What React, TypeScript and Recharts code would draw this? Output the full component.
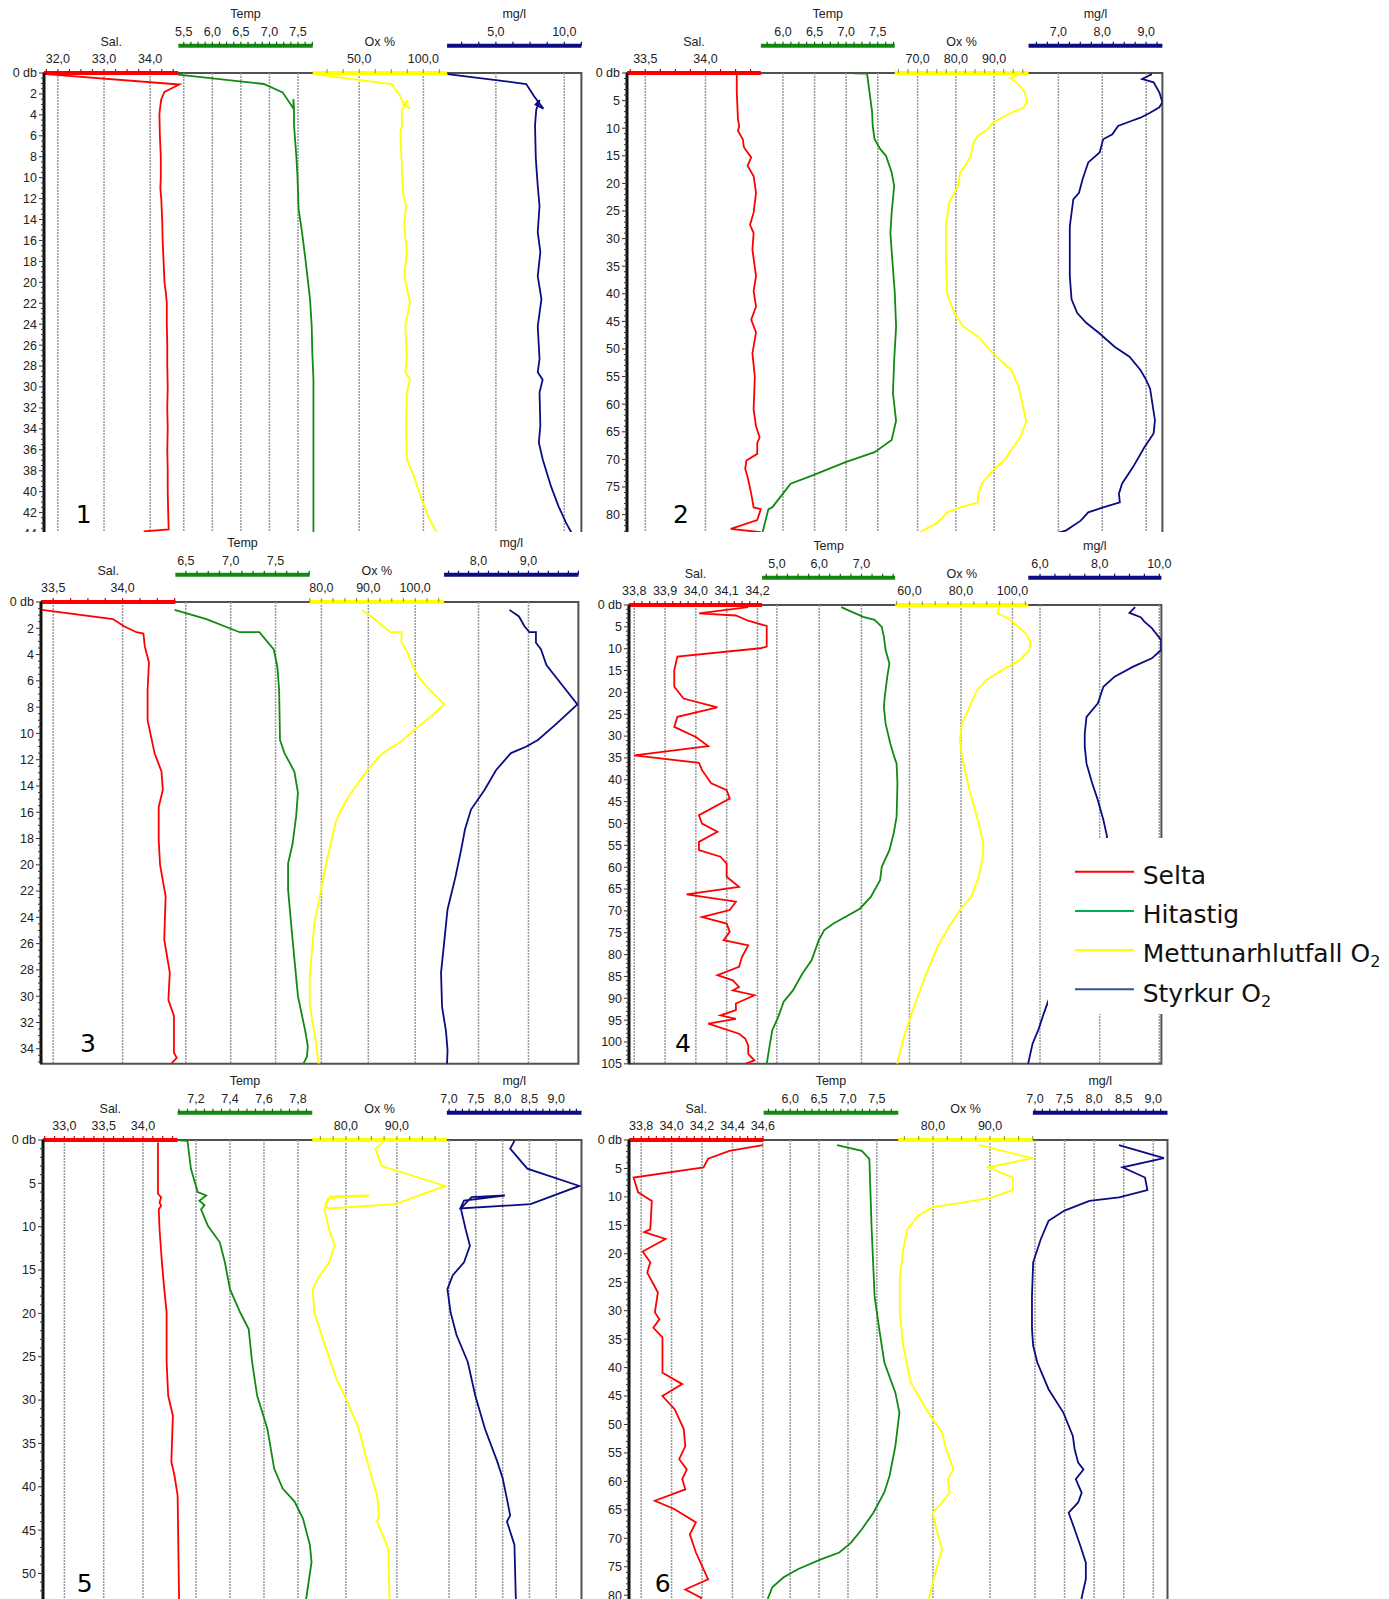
import React from 'react';
import { ScatterChart, Scatter, XAxis, YAxis, ReferenceLine, ReferenceArea } from 'recharts';

// profiles are [depth (db), value]
type Profile = [number, number][];
type Key = 'sal' | 'temp' | 'ox' | 'mg';

// ---------- panel 1 ----------
const p1Sal: Profile = [[0.1, 31.75], [1.1, 34.63], [1.8, 34.31], [2.5, 34.24], [3.5, 34.21], [4, 34.2], [6, 34.21], [8, 34.23], [10, 34.23], [11, 34.22], [12, 34.24], [14, 34.26], [16, 34.27], [18, 34.29], [20, 34.31], [21, 34.34], [22, 34.36], [24, 34.36], [26, 34.37], [28, 34.37], [30, 34.38], [32, 34.37], [34, 34.38], [36, 34.37], [38, 34.38], [40, 34.38], [42, 34.39], [43.6, 34.4], [43.8, 33.86]];
const p1Temp: Profile = [[0.15, 5.4], [1.05, 6.9], [1.85, 7.23], [3.4, 7.42], [2.5, 7.42], [3.5, 7.43], [5, 7.43], [7.9, 7.47], [9.8, 7.49], [13, 7.51], [15.2, 7.57], [17.8, 7.63], [21.6, 7.71], [24.2, 7.74], [26.7, 7.75], [29.3, 7.77], [44, 7.77]];
const p1Ox: Profile = [[0.1, 14.7], [1.05, 75.1], [2.2, 82], [2.7, 83.5], [3.4, 89.5], [3.0, 84.5], [2.6, 88], [3.6, 83], [5, 83.5], [5.6, 82], [8.2, 82.9], [11.4, 84.1], [12.7, 86.5], [14.5, 85], [17.1, 87.1], [19.4, 85], [21.9, 89.5], [24.2, 85.9], [27.3, 87.1], [28.6, 85.9], [29.3, 89.5], [30.5, 87.1], [33.7, 86.5], [36.9, 87.1], [38.5, 92.5], [40.7, 98.5], [42.6, 104.5], [44, 111]];
const p1Mg: Profile = [[0.1, 1.47], [1.05, 7.22], [2.2, 7.78], [2.7, 8.06], [3.4, 8.47], [3.0, 7.9], [2.6, 8.2], [3.5, 7.95], [5, 7.86], [8.2, 7.92], [10.8, 8.06], [12.7, 8.19], [15.2, 8.06], [17.1, 8.25], [19.4, 8.06], [21.6, 8.33], [24.2, 8.06], [27.3, 8.19], [28.6, 8.06], [29.3, 8.42], [30.5, 8.19], [33.7, 8.25], [35.3, 8.14], [36.9, 8.42], [39.5, 9.03], [41.4, 9.58], [43, 10.14], [44, 10.56]];

// ---------- panel 2 ----------
const p2Sal: Profile = [[0.2, 34.26], [3.5, 34.26], [8.4, 34.27], [9.6, 34.28], [10.5, 34.27], [12, 34.31], [13.5, 34.32], [15.3, 34.38], [16.8, 34.35], [18.7, 34.4], [21.7, 34.42], [25.3, 34.4], [27.5, 34.37], [29, 34.4], [32, 34.39], [36.8, 34.42], [39.5, 34.4], [42.3, 34.42], [44.7, 34.38], [47, 34.42], [50.8, 34.39], [55, 34.41], [61, 34.4], [64, 34.42], [66, 34.45], [67, 34.43], [69, 34.43], [70.2, 34.34], [71.7, 34.33], [73.2, 34.35], [76.2, 34.38], [78.7, 34.4], [79, 34.46], [81, 34.43], [82.6, 34.21], [83.2, 34.46]];
const p2Temp: Profile = [[0.05, 7.12], [0.1, 7.33], [3.5, 7.37], [7, 7.41], [9.6, 7.42], [12, 7.45], [13.8, 7.54], [15, 7.63], [18, 7.72], [20.5, 7.76], [25.3, 7.72], [29, 7.7], [33.8, 7.73], [39.9, 7.77], [46, 7.79], [52, 7.76], [58, 7.74], [63, 7.79], [66.5, 7.72], [68.7, 7.45], [70.5, 6.99], [72.9, 6.47], [74.4, 6.12], [76.2, 6.0], [78.7, 5.83], [79, 5.77], [81.7, 5.71], [84, 5.66]];
const p2Ox: Profile = [[0.2, 96.9], [0.9, 94.2], [2.0, 96.3], [3.5, 98.0], [5.3, 98.6], [6.3, 97.7], [7.2, 94.5], [8.3, 91.5], [9.0, 89.7], [10.2, 88.3], [11.4, 85.7], [12.6, 84.6], [15, 83.9], [16.8, 82.5], [18, 81.1], [20.5, 80.6], [21.7, 79.6], [23.5, 78.2], [27.8, 77.4], [33.8, 77.4], [39.9, 77.7], [43.5, 79.6], [46, 82], [47.8, 85.9], [50.8, 89.7], [53.8, 94.5], [56.8, 96.4], [59.9, 97.4], [63.2, 98.4], [65.9, 96.9], [67.8, 95], [70.2, 92.6], [72, 89.7], [74.4, 86.8], [76.2, 85.9], [77.8, 85.7], [78.7, 81.1], [79.6, 77.7], [81.4, 75.3], [82.9, 71.4], [84, 68.6]];
const p2Mg: Profile = [[0.2, 9.13], [1.1, 8.91], [1.7, 9.17], [3.5, 9.3], [5.3, 9.37], [6.2, 9.3], [7.2, 9.09], [8.1, 8.87], [8.7, 8.66], [9.6, 8.36], [11.1, 8.23], [12, 8.02], [14.4, 7.94], [16.2, 7.68], [19.3, 7.55], [21.7, 7.47], [22.9, 7.34], [27.8, 7.26], [36.8, 7.26], [41, 7.3], [43.5, 7.43], [45.3, 7.64], [47.2, 7.94], [49.6, 8.28], [51.4, 8.62], [53.8, 8.87], [55.6, 9.0], [57.2, 9.09], [62.9, 9.2], [65.3, 9.17], [67.8, 8.96], [71.4, 8.7], [74.4, 8.45], [76.2, 8.38], [77.8, 8.4], [78.7, 8.02], [79.6, 7.68], [81.1, 7.51], [82.9, 7.17], [84, 6.66]];

// ---------- panel 3 ----------
const p3Sal: Profile = [[0.6, 33.42], [1.3, 33.93], [1.85, 34.01], [2.3, 34.1], [2.4, 34.15], [3.4, 34.16], [4.6, 34.19], [6.7, 34.18], [9, 34.18], [10, 34.2], [11.5, 34.23], [12.9, 34.28], [14.3, 34.29], [15.6, 34.26], [18.1, 34.26], [20, 34.27], [22.4, 34.31], [25.7, 34.3], [28.2, 34.34], [30.3, 34.33], [31.5, 34.37], [34.3, 34.37], [34.7, 34.39], [35.15, 34.35]];
const p3Temp: Profile = [[0.6, 6.375], [1.3, 6.73], [2.3, 7.1], [2.3, 7.32], [3.6, 7.48], [4.9, 7.52], [6.7, 7.54], [10.5, 7.55], [11.5, 7.6], [12.9, 7.71], [14.5, 7.75], [16.3, 7.73], [18.4, 7.69], [19.9, 7.64], [21.9, 7.64], [25.7, 7.69], [30, 7.75], [32.6, 7.83], [33.8, 7.86], [34.6, 7.85], [35.15, 7.81]];
const p3Ox: Profile = [[0.6, 88.6], [1.2, 91], [2.3, 94.7], [2.3, 97.1], [3.1, 97.1], [3.8, 98.3], [4.9, 99.5], [5.7, 100.7], [6.7, 103.1], [7.8, 106.2], [8.8, 103.1], [9.7, 99.9], [10.6, 97.1], [11.2, 94.3], [11.75, 92.3], [12.8, 89.8], [13.8, 87.8], [14.8, 85.8], [15.8, 84.2], [16.8, 83], [18.4, 82], [19.9, 81], [21.4, 80.2], [22.9, 79.4], [24.4, 78.5], [26.5, 78], [28.5, 77.5], [30.5, 77.5], [32, 78.1], [33.6, 78.9], [35.15, 79.4]];
const p3Mg: Profile = [[0.6, 8.62], [1.1, 8.81], [1.85, 8.92], [2.3, 9.02], [2.3, 9.15], [3.1, 9.15], [3.6, 9.25], [4.8, 9.36], [6.2, 9.65], [7.8, 9.98], [9.2, 9.58], [10.5, 9.19], [11, 8.96], [11.5, 8.65], [12.8, 8.35], [14.3, 8.12], [15.8, 7.85], [17.3, 7.73], [18.9, 7.65], [20.9, 7.54], [23.4, 7.38], [26, 7.31], [28.2, 7.25], [30.8, 7.27], [32.7, 7.35], [34.1, 7.38], [35.15, 7.37]];

// ---------- panel 4 ----------
const p4Sal: Profile = [[0.5, 34.17], [1.9, 34.01], [2.4, 34.13], [3.6, 34.17], [4.2, 34.2], [4.8, 34.23], [7.3, 34.23], [9.5, 34.23], [9.9, 34.21], [11.8, 33.94], [14.9, 33.93], [16.8, 33.93], [18.7, 33.93], [21.4, 33.96], [23.4, 34.07], [25.6, 33.94], [27.9, 33.93], [30.2, 34.0], [32.3, 34.04], [34.4, 33.8], [36.1, 34.01], [37.8, 34.02], [40.8, 34.05], [42.4, 34.1], [44.3, 34.11], [48.1, 34.01], [50, 34.02], [51.9, 34.07], [54.2, 34.01], [56.1, 34.01], [57.6, 34.08], [59.2, 34.1], [62.2, 34.1], [64.5, 34.14], [66.2, 33.97], [67.9, 34.13], [69.8, 34.11], [71.4, 34.02], [72.9, 34.1], [74.8, 34.11], [76.7, 34.09], [77.9, 34.17], [80.5, 34.15], [82.8, 34.14], [84.7, 34.07], [85.9, 34.12], [87.4, 34.14], [88.2, 34.12], [89.3, 34.19], [91.2, 34.13], [92.7, 34.13], [93.9, 34.08], [94.7, 34.13], [95.8, 34.04], [98.1, 34.14], [99.2, 34.16], [100.8, 34.17], [102.7, 34.17], [104.2, 34.19], [105, 34.16]];
const p4Temp: Profile = [[0.5, 6.52], [2.7, 7.04], [3.4, 7.31], [5, 7.48], [7.3, 7.53], [10.3, 7.57], [13.4, 7.66], [16.4, 7.61], [21, 7.55], [23.4, 7.53], [27.1, 7.57], [31.7, 7.68], [34, 7.75], [36.3, 7.83], [40.8, 7.85], [48.5, 7.83], [52.3, 7.76], [56.1, 7.66], [59.9, 7.48], [63, 7.44], [66.8, 7.22], [69.5, 6.96], [71, 6.69], [72.9, 6.34], [74.4, 6.12], [76.7, 5.99], [81.3, 5.82], [84.4, 5.6], [88.2, 5.38], [90.8, 5.16], [94.3, 5.03], [97.3, 4.89], [101.9, 4.81], [105, 4.76]];
const p4Ox: Profile = [[0.5, 94.9], [1.9, 94.2], [3.1, 98.5], [5, 102.2], [6.5, 105.1], [8.4, 107], [10.3, 106.5], [12.6, 102.9], [14.5, 97.1], [17.2, 89.8], [19.5, 86.2], [23.3, 83.3], [27.1, 80.4], [30.9, 79.6], [34.7, 80.4], [42.4, 83.3], [50, 86.9], [54.6, 88.7], [57.6, 88.4], [62.2, 86.9], [66.8, 84], [69.8, 79.6], [73.7, 75.3], [78.2, 70.9], [84.4, 66.5], [91.2, 62.2], [95, 60], [98.9, 57.8], [105, 55.2]];
const p4Mg: Profile = [[0.5, 9.19], [1.8, 9.0], [2.8, 9.375], [3.8, 9.5], [5.3, 9.75], [8, 10.06], [10.3, 10.06], [12.2, 9.75], [14.1, 9.125], [16.4, 8.5], [18.7, 8.125], [22.5, 7.94], [25.6, 7.56], [29.4, 7.5], [32.4, 7.5], [36.3, 7.56], [40.8, 7.75], [44.7, 7.94], [49.2, 8.125], [53, 8.25], [93.5, 6.125], [97.3, 5.94], [100.4, 5.75], [105, 5.6]];

// ---------- panel 5 ----------
const p5Sal: Profile = [[0.3, 34.19], [6.2, 34.19], [6.6, 34.23], [7.2, 34.21], [7.6, 34.23], [8, 34.2], [10.3, 34.21], [14.1, 34.24], [17.2, 34.27], [19.9, 34.3], [25.6, 34.3], [29.5, 34.32], [31.8, 34.38], [37.1, 34.36], [38.7, 34.4], [41, 34.44], [54, 34.46]];
const p5Temp: Profile = [[0.05, 7.1], [0.1, 7.15], [3.3, 7.17], [6, 7.21], [6.4, 7.26], [7, 7.22], [7.5, 7.25], [8, 7.23], [9.9, 7.27], [11.8, 7.34], [14.1, 7.37], [17.2, 7.4], [19.9, 7.46], [21.8, 7.51], [25.6, 7.53], [29.5, 7.56], [33.3, 7.62], [37.9, 7.66], [40.2, 7.71], [41.7, 7.78], [43.7, 7.83], [46.7, 7.87], [48.7, 7.88], [54, 7.84]];
const p5Ox: Profile = [[0.1, 87.5], [1.0, 85.8], [3.0, 87], [5.3, 99.5], [7.4, 89.7], [7.9, 76.5], [7.5, 76], [6.5, 77], [6.4, 84.6], [6.7, 76.5], [8, 75.8], [10.3, 76.7], [12.2, 77.8], [14.1, 76.7], [16, 74.5], [17.2, 73.5], [19.9, 73.8], [23.7, 75.9], [27.5, 78.1], [30.2, 80.3], [33.3, 82.5], [37.1, 84.2], [39, 85.1], [41, 86.1], [43.3, 86.5], [44, 86.1], [47.1, 88.3], [54, 88.6]];
const p5Mg: Profile = [[0.1, 8.22], [1, 8.14], [3.3, 8.46], [5.3, 9.43], [7.4, 8.52], [7.9, 7.21], [7.0, 7.28], [6.4, 8.04], [6.6, 7.42], [7.9, 7.22], [10.3, 7.31], [12.2, 7.39], [14.1, 7.28], [15.6, 7.07], [17.2, 6.97], [19.9, 7.03], [22.5, 7.14], [25.6, 7.35], [29.5, 7.49], [33.3, 7.67], [37.1, 7.9], [39, 8.0], [41.4, 8.08], [43.3, 8.14], [44, 8.08], [46.7, 8.22], [54, 8.25]];

// ---------- panel 6 ----------
const p6Sal: Profile = [[0.9, 34.6], [1.9, 34.38], [3.3, 34.24], [4.8, 34.21], [6.6, 33.75], [9.2, 33.78], [10.7, 33.87], [15.7, 33.86], [16.2, 33.82], [17.4, 33.96], [19.6, 33.81], [21.5, 33.86], [23.3, 33.84], [26.8, 33.91], [30.3, 33.89], [31.5, 33.92], [33, 33.88], [34.7, 33.94], [40.9, 33.94], [42.9, 34.07], [45, 33.94], [47.3, 34.02], [50.8, 34.08], [53.8, 34.09], [56.1, 34.05], [57.9, 34.1], [59.6, 34.07], [61.4, 34.09], [63.4, 33.89], [64.9, 34.02], [67.2, 34.16], [69.3, 34.12], [72.5, 34.16], [77.2, 34.24], [79, 34.09], [80.4, 34.19], [82, 34.22]];
const p6Temp: Profile = [[0.9, 6.81], [1.9, 7.24], [3.3, 7.37], [15.7, 7.41], [27.4, 7.46], [33.2, 7.54], [39.1, 7.63], [44.4, 7.82], [47.9, 7.89], [53.8, 7.82], [59, 7.72], [61.9, 7.63], [65.5, 7.44], [68.4, 7.24], [70.8, 7.05], [72.5, 6.85], [73.7, 6.53], [75.4, 6.14], [76.9, 5.88], [78.6, 5.69], [80.4, 5.62], [82, 5.58]];
const p6Ox: Profile = [[0.9, 88.1], [3.2, 97.5], [4.8, 89.7], [6.6, 94], [8.8, 94], [10.1, 90.4], [11, 85.2], [11.8, 80], [13.3, 77.4], [15.7, 75.5], [19.2, 74.8], [24.4, 74.2], [30.3, 74.2], [36.2, 74.8], [42.6, 76.1], [46.1, 78.1], [49.1, 80], [51.4, 81.6], [54.3, 82.3], [57.9, 83.6], [59.6, 82.6], [62, 82.9], [63.7, 81.6], [65.5, 80], [68.4, 80.6], [71.9, 81.6], [75.4, 80.6], [80.1, 79.4], [82, 79]];
const p6Mg: Profile = [[0.9, 8.42], [3.2, 9.18], [4.8, 8.48], [6.6, 8.86], [8.8, 8.9], [10.1, 8.42], [10.7, 7.92], [12.4, 7.5], [14.2, 7.23], [17.4, 7.1], [21.5, 6.97], [27.4, 6.95], [33.2, 6.95], [36.2, 6.97], [39.1, 7.04], [43.8, 7.23], [47.9, 7.48], [52, 7.64], [54.3, 7.67], [56.7, 7.73], [57.9, 7.82], [59.6, 7.69], [62, 7.79], [63.7, 7.73], [65.5, 7.57], [68.4, 7.67], [71.4, 7.77], [74.3, 7.86], [77.2, 7.86], [80.4, 7.79], [82, 7.78]];

// axis value ranges covered by each quarter of the plot [left, right]
const p1Range = { sal: [31.7, 34.61], temp: [5.405, 7.757], ox: [13.8, 118.4], mg: [1.43, 11.25] };
const p2Range = { sal: [33.348, 34.46], temp: [5.65, 7.768], ox: [64.01, 99.0], mg: [6.32, 9.37] };
const p3Range = { sal: [33.412, 34.38], temp: [6.383, 7.881], ox: [77.5, 106.15], mg: [7.31, 10.0] };
const p4Range = { sal: [33.783, 34.215], temp: [4.65, 7.797], ox: [54.45, 106.15], mg: [5.607, 10.07] };
const p5Range = { sal: [32.728, 34.44], temp: [7.092, 7.884], ox: [73.4, 99.8], mg: [6.96, 9.47] };
const p6Range = { sal: [33.72, 34.605], temp: [5.54, 7.87], ox: [73.92, 97.5], mg: [6.965, 9.24] };

// labelled tick values
const p1Labels = { sal: [32, 33, 34], temp: [5.5, 6, 6.5, 7, 7.5], ox: [50, 100], mg: [5, 10] };
const p2Labels = { sal: [33.5, 34], temp: [6, 6.5, 7, 7.5], ox: [70, 80, 90], mg: [7, 8, 9] };
const p3Labels = { sal: [33.5, 34], temp: [6.5, 7, 7.5], ox: [80, 90, 100], mg: [8, 9] };
const p4Labels = { sal: [33.8, 33.9, 34, 34.1, 34.2], temp: [5, 6, 7], ox: [60, 80, 100], mg: [6, 8, 10] };
const p5Labels = { sal: [33, 33.5, 34], temp: [7.2, 7.4, 7.6, 7.8], ox: [80, 90], mg: [7, 7.5, 8, 8.5, 9] };
const p6Labels = { sal: [33.8, 34, 34.2, 34.4, 34.6], temp: [6, 6.5, 7, 7.5], ox: [80, 90], mg: [7, 7.5, 8, 8.5, 9] };

// minor tick step
const p1Minor = { sal: 0.25, temp: 0.125, ox: 12.5, mg: 1.25 };
const p2Minor = { sal: 0.125, temp: 0.125, ox: 2.5, mg: 0.25 };
const p3Minor = { sal: 0.125, temp: 0.125, ox: 2.5, mg: 0.2 };
const p4Minor = { sal: 0.025, temp: 0.25, ox: 5, mg: 0.5 };
const p5Minor = { sal: 0.125, temp: 0.05, ox: 2.5, mg: 0.125 };
const p6Minor = { sal: 0.05, temp: 0.125, ox: 2.5, mg: 0.125 };

const legendNames = ['Selta', 'Hitastig', 'Mettunarhlutfall O', 'Styrkur O'];
const legendSubs = ['', '', '2', '2'];
const legendColors = ['#ff0000', '#00b050', '#ffff00', '#2f5597'];

// top axes are stacked in this order: sal and ox on the plot edge, temp and mg one row higher
const KEYS: Key[] = ['sal', 'ox', 'temp', 'mg'];
const AXIS_ID: Record<Key, string> = { sal: 'a_sal', ox: 'b_ox', temp: 'c_temp', mg: 'd_mg' };
const QUARTER: Record<Key, number> = { sal: 0, temp: 1, ox: 2, mg: 3 };
const COLORS: Record<Key, string> = { sal: '#ff0000', temp: '#128a12', ox: '#ffff00', mg: '#0c0c82' };
const TICK_COLORS: Record<Key, string> = { sal: '#d00000', temp: '#0d6e0d', ox: '#9a9a55', mg: '#0c0c82' };
const TITLES: Record<Key, string> = { sal: 'Sal.', temp: 'Temp', ox: 'Ox %', mg: 'mg/l' };

const AXIS_FONT = '"Liberation Sans", Arial, sans-serif';
const BIG_FONT = '"DejaVu Sans", Verdana, sans-serif';
const ROW_GAP = 27.3;
const THIN = 0.01; // axes need a positive height to be drawn
const Y_AXIS_W = 40;
const RIGHT_PAD = 22;
const HEAD = 72;

const fmt = (v: number) => v.toFixed(1).replace('.', ',');

function stepTicks(lo: number, hi: number, anchor: number, step: number) {
  const out: number[] = [];
  const start = anchor - Math.floor((anchor - lo) / step + 1e-9) * step;
  for (let i = 0; start + i * step <= hi + 1e-9; i++) out.push(Math.round((start + i * step) * 1e6) / 1e6);
  return out;
}

const EmptyShape = () => <g />;

function TopTick(props: any) {
  const { x, y, payload, majors, color } = props;
  const v = payload.value;
  const isMajor = majors.some((m: number) => Math.abs(m - v) < 1e-6);
  return (
    <g>
      <line x1={x} y1={y} x2={x} y2={y - 4} stroke={color} strokeWidth={1.2} />
      {isMajor && (
        <text x={x} y={y - 10} textAnchor="middle" fontSize={12.5} fill="#222" fontFamily={AXIS_FONT}>
          {fmt(v)}
        </text>
      )}
    </g>
  );
}

function DepthTick(props: any) {
  const { x, y, payload, step } = props;
  const v = payload.value;
  const isMajor = Math.abs(v / step - Math.round(v / step)) < 1e-6;
  return (
    <g>
      <line x1={x - (isMajor ? 5 : 3)} y1={y} x2={x} y2={y} stroke="#333" strokeWidth={1} />
      {isMajor && (
        <text x={x - 7} y={y + 4.4} textAnchor="end" fontSize={12.5} fill="#222" fontFamily={AXIS_FONT}>
          {v === 0 ? '0 db' : v}
        </text>
      )}
    </g>
  );
}

type PanelSpec = {
  plotLeft: number;
  plotTop: number;
  plotW: number;
  dbPx: number;
  maxD: number;
  clipBottom?: number;
  depthStep: number;
  depthMinor: number;
  range: Record<Key, number[]>;
  labels: Record<Key, number[]>;
  minor: Record<Key, number>;
  data: Record<Key, Profile>;
};

const panels: PanelSpec[] = [
  { plotLeft: 43.9, plotTop: 73.4, plotW: 537.4, dbPx: 10.467, maxD: 44, clipBottom: 532, depthStep: 2, depthMinor: 0.5, range: p1Range, labels: p1Labels, minor: p1Minor, data: { sal: p1Sal, temp: p1Temp, ox: p1Ox, mg: p1Mg } },
  { plotLeft: 627.2, plotTop: 73.4, plotW: 535.4, dbPx: 5.52, maxD: 84, clipBottom: 532, depthStep: 5, depthMinor: 1, range: p2Range, labels: p2Labels, minor: p2Minor, data: { sal: p2Sal, temp: p2Temp, ox: p2Ox, mg: p2Mg } },
  { plotLeft: 40.8, plotTop: 601.7, plotW: 537.4, dbPx: 13.14, maxD: 35.15, depthStep: 2, depthMinor: 0.5, range: p3Range, labels: p3Labels, minor: p3Minor, data: { sal: p3Sal, temp: p3Temp, ox: p3Ox, mg: p3Mg } },
  { plotLeft: 629.2, plotTop: 604.7, plotW: 532.4, dbPx: 4.37, maxD: 105, depthStep: 5, depthMinor: 1, range: p4Range, labels: p4Labels, minor: p4Minor, data: { sal: p4Sal, temp: p4Temp, ox: p4Ox, mg: p4Mg } },
  { plotLeft: 42.8, plotTop: 1140.1, plotW: 538.5, dbPx: 8.67, maxD: 54, clipBottom: 1599, depthStep: 5, depthMinor: 1, range: p5Range, labels: p5Labels, minor: p5Minor, data: { sal: p5Sal, temp: p5Temp, ox: p5Ox, mg: p5Mg } },
  { plotLeft: 629.2, plotTop: 1140.1, plotW: 538.5, dbPx: 5.69, maxD: 82, clipBottom: 1599, depthStep: 5, depthMinor: 1, range: p6Range, labels: p6Labels, minor: p6Minor, data: { sal: p6Sal, temp: p6Temp, ox: p6Ox, mg: p6Mg } },
];

const panelNumbers = ['1', '2', '3', '4', '5', '6'];
const numberPos = [[83.6, 523.3], [681, 523.3], [88, 1051.7], [683, 1051.7], [84.7, 1591.7], [662.7, 1591.7]];

function Panel({ spec }: { spec: PanelSpec }) {
  const { plotLeft, plotTop, plotW, dbPx, maxD, clipBottom, depthStep, depthMinor } = spec;
  const plotH = dbPx * maxD;
  const chartW = Y_AXIS_W + plotW + RIGHT_PAD;
  const chartH = HEAD + plotH + 8;
  const left = plotLeft - Y_AXIS_W;
  const top = plotTop - HEAD;
  const visH = clipBottom ? Math.min(chartH, clipBottom - top) : chartH;

  const domains = {} as Record<Key, number[]>;
  KEYS.forEach((k) => {
    const [lo, hi] = spec.range[k];
    const span = hi - lo;
    const q = QUARTER[k];
    domains[k] = [lo - q * span, hi + (3 - q) * span];
  });
  const depthTicks = stepTicks(0, maxD, 0, depthMinor);

  return (
    <div style={{ position: 'absolute', left, top, width: chartW, height: visH, overflow: 'hidden' }}>
      <ScatterChart width={chartW} height={chartH} margin={{ top: HEAD - ROW_GAP - 3 * THIN, right: RIGHT_PAD, bottom: 8, left: 0 }}>
        <ReferenceArea
          xAxisId={AXIS_ID.sal}
          yAxisId="d"
          x1={domains.sal[0]}
          x2={domains.sal[1]}
          y1={0}
          y2={maxD}
          fill="none"
          fillOpacity={0}
          stroke="#505050"
          strokeWidth={2}
          ifOverflow="visible"
        />
        {KEYS.flatMap((k) =>
          spec.labels[k].map((m) => (
            <ReferenceLine
              key={`g-${k}-${m}`}
              xAxisId={AXIS_ID[k]}
              yAxisId="d"
              x={m}
              stroke="#9a9a9a"
              strokeWidth={1.5}
              strokeDasharray="2 1"
            />
          ))
        )}
        {KEYS.map((k) => (
          <Scatter
            key={`s-${k}`}
            xAxisId={AXIS_ID[k]}
            yAxisId="d"
            data={spec.data[k].map(([d, v]) => ({ x: v, y: d }))}
            fill={COLORS[k]}
            line={{ stroke: COLORS[k], strokeWidth: 1.8 }}
            shape={EmptyShape}
            isAnimationActive={false}
          />
        ))}
        {KEYS.map((k) => {
          const q = QUARTER[k];
          const [lo, hi] = spec.range[k];
          const majors = spec.labels[k];
          const ticks = stepTicks(lo, hi, majors[0], spec.minor[k]);
          const dash = q === 0 ? `${plotW / 4} ${plotW * 2}` : `0 ${(q * plotW) / 4} ${plotW / 4} ${plotW * 2}`;
          return (
            <XAxis
              key={`x-${k}`}
              xAxisId={AXIS_ID[k]}
              type="number"
              dataKey="x"
              orientation="top"
              domain={domains[k]}
              allowDataOverflow
              height={k === 'ox' ? ROW_GAP : THIN}
              ticks={ticks}
              interval={0}
              tickLine={false}
              tickSize={0}
              tickMargin={0}
              axisLine={{ stroke: COLORS[k], strokeWidth: 4, strokeDasharray: dash }}
              tick={(p: any) => <TopTick {...p} majors={majors} color={TICK_COLORS[k]} />}
              label={{
                content: (lp: any) => {
                  const vb = lp.viewBox || {};
                  const lineY = vb.y + vb.height;
                  const cx = vb.x + (vb.width * (q + 0.5)) / 4;
                  return (
                    <text x={cx} y={lineY - 27.3} textAnchor="middle" fontSize={12.5} fill="#222" fontFamily={AXIS_FONT}>
                      {TITLES[k]}
                    </text>
                  );
                },
              }}
            />
          );
        })}
        <YAxis
          yAxisId="d"
          type="number"
          dataKey="y"
          domain={[0, maxD]}
          reversed
          allowDataOverflow
          width={Y_AXIS_W}
          ticks={depthTicks}
          interval={0}
          tickLine={false}
          tickSize={0}
          tickMargin={0}
          axisLine={{ stroke: '#111', strokeWidth: 3 }}
          tick={(p: any) => <DepthTick {...p} step={depthStep} />}
        />
      </ScatterChart>
    </div>
  );
}

export default function App() {
  return (
    <div style={{ position: 'absolute', left: 0, top: 0, width: 1389, height: 1599, background: '#fff', overflow: 'hidden' }}>
      {panels.map((p, i) => (
        <Panel key={i} spec={p} />
      ))}
      <svg width={1389} height={1599} style={{ position: 'absolute', left: 0, top: 0, pointerEvents: 'none' }}>
        {panelNumbers.map((n, i) => (
          <text key={n} x={numberPos[i][0]} y={numberPos[i][1]} textAnchor="middle" fontSize={25} fontFamily={BIG_FONT} fill="#000">
            {n}
          </text>
        ))}
        <rect x={1048} y={838} width={341} height={176} fill="#fff" />
        {legendNames.map((name, i) => {
          const cy = 871.7 + i * 39.2;
          return (
            <g key={name}>
              <line x1={1075} y1={cy} x2={1134} y2={cy} stroke={legendColors[i]} strokeWidth={2} />
              <text x={1142.7} y={cy + 12.3} fontSize={25} fontFamily={BIG_FONT} fill="#111">
                {name}
                {legendSubs[i] && (
                  <tspan fontSize={16} dy={5}>
                    {legendSubs[i]}
                  </tspan>
                )}
              </text>
            </g>
          );
        })}
      </svg>
    </div>
  );
}
